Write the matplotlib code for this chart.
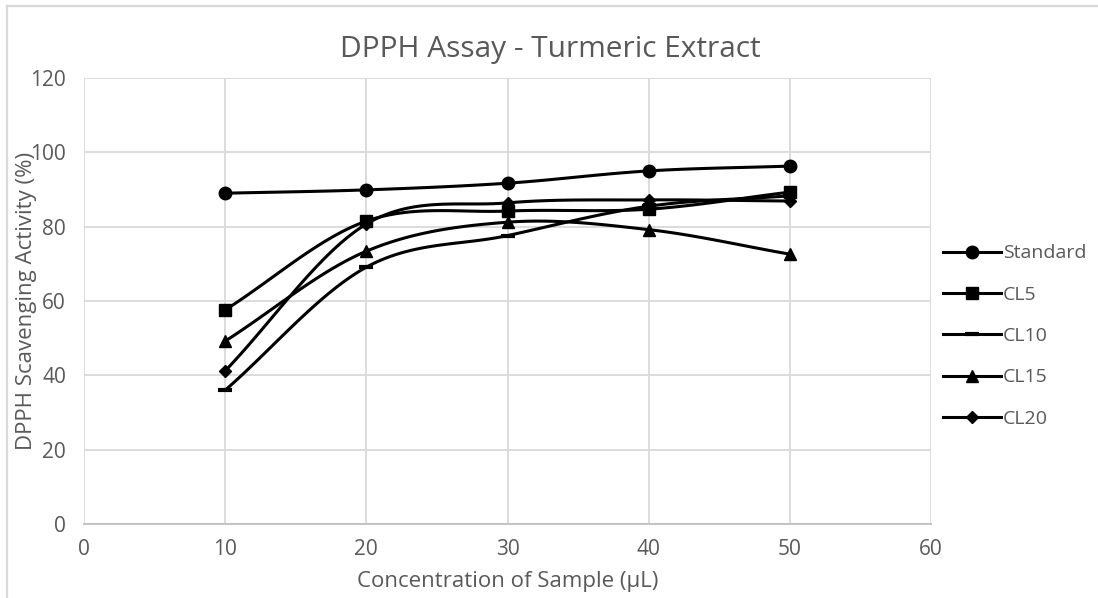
import numpy as np
import matplotlib
matplotlib.use("Agg")
import matplotlib.pyplot as plt
from matplotlib.lines import Line2D

concentration = [10, 20, 30, 40, 50]
standard = [89.0, 89.9, 91.7, 95.0, 96.3]
cl5 = [57.6, 81.5, 84.2, 84.7, 89.3]
cl10 = [36.0, 69.1, 77.6, 85.5, 88.3]
cl15 = [49.2, 73.4, 81.2, 79.2, 72.6]
cl20 = [41.2, 80.7, 86.4, 87.2, 86.9]

series_names = ["Standard", "CL5", "CL10", "CL15", "CL20"]
series_values = [standard, cl5, cl10, cl15, cl20]
markers = ["o", "s", "_", "^", "D"]
msizes = [9, 9, 10, 9, 6.5]

x_ticks = [0, 10, 20, 30, 40, 50, 60]
y_ticks = [0, 20, 40, 60, 80, 100, 120]


def smooth(x, y, n=30):
    # Bezier smoothing similar to Excel smoothed lines
    x = np.asarray(x, float)
    y = np.asarray(y, float)
    px = np.concatenate([[2 * x[0] - x[1]], x, [2 * x[-1] - x[-2]]])
    py = np.concatenate([[2 * y[0] - y[1]], y, [2 * y[-1] - y[-2]]])
    xs, ys = [], []
    t = np.linspace(0, 1, n)
    for i in range(1, len(px) - 2):
        p0, p1, p2, p3 = (np.array([px[j], py[j]]) for j in (i - 1, i, i + 1, i + 2))
        c1 = p1 + (p2 - p0) / 6.0
        c2 = p2 - (p3 - p1) / 6.0
        pts = ((1 - t) ** 3)[:, None] * p1 + (3 * (1 - t) ** 2 * t)[:, None] * c1 \
            + (3 * (1 - t) * t ** 2)[:, None] * c2 + (t ** 3)[:, None] * p2
        xs.extend(pts[:, 0])
        ys.extend(pts[:, 1])
    return xs, ys


plt.rcParams['font.family'] = ['Open Sans', 'DejaVu Sans']
W, H = 1098, 598
AX_L, AX_R, AX_T, AX_B = 84, 931, 78, 524
fig = plt.figure(figsize=(W / 100, H / 100), dpi=100)
ax = fig.add_axes([AX_L / W, 1 - AX_B / H, (AX_R - AX_L) / W, (AX_B - AX_T) / H])

grey_text = "#595959"
handles = []
for name, vals, m, ms in zip(series_names, series_values, markers, msizes):
    sx, sy = smooth(concentration, vals)
    ax.plot(sx, sy, color="black", lw=2.2, solid_capstyle="round", zorder=3)
    mew = 3 if m == "_" else 1
    ax.plot(concentration, vals, linestyle="none", marker=m, markersize=ms,
            color="black", markeredgewidth=mew, zorder=4)
    handles.append(Line2D([], [], color="black", lw=2.2, marker=m, markersize=ms,
                          markeredgewidth=mew, label=name))

ax.set_xlim(0, 60)
ax.set_ylim(0, 120)
ax.set_xticks(x_ticks)
ax.set_yticks(y_ticks)
ax.grid(True, color="#d9d9d9", lw=1.3)
ax.set_axisbelow(True)
for s in ["top", "right", "left"]:
    ax.spines[s].set_visible(False)
ax.spines["bottom"].set_color("#bfbfbf")
ax.spines["bottom"].set_linewidth(1.3)
ax.tick_params(axis="y", length=0, labelsize=15, colors=grey_text, pad=13)
ax.tick_params(axis="x", length=0, labelsize=15, colors=grey_text, pad=11)

fig.text(550 / W, 1 - 49 / H, "DPPH Assay - Turmeric Extract", fontsize=21.5,
         color=grey_text, ha="center", va="center")
ax.set_xlabel("Concentration of Sample (µL)", fontsize=16, color=grey_text, va="center")
ax.xaxis.set_label_coords((508 - AX_L) / (AX_R - AX_L), -(582 - AX_B) / (AX_B - AX_T))
ax.set_ylabel("DPPH Scavenging Activity (%)", fontsize=16, color=grey_text, va="center")
ax.yaxis.set_label_coords(-(AX_L - 27) / (AX_R - AX_L), 0.5)

fig.legend(handles=handles, loc="center left", bbox_to_anchor=(933 / W, 1 - 336 / H),
           frameon=False, fontsize=14, labelcolor=grey_text, handlelength=3.0,
           handletextpad=0.1, labelspacing=1.2, borderpad=0)

# outer chart border (partially visible in the reference)
fig.add_artist(Line2D([7 / W, 7 / W], [0, 1 - 6 / H], transform=fig.transFigure,
                      color="#d9d9d9", lw=1.6))
fig.add_artist(Line2D([7 / W, 1], [1 - 6 / H, 1 - 6 / H], transform=fig.transFigure,
                      color="#d9d9d9", lw=1.6))

fig.savefig("out.png", dpi=100)
